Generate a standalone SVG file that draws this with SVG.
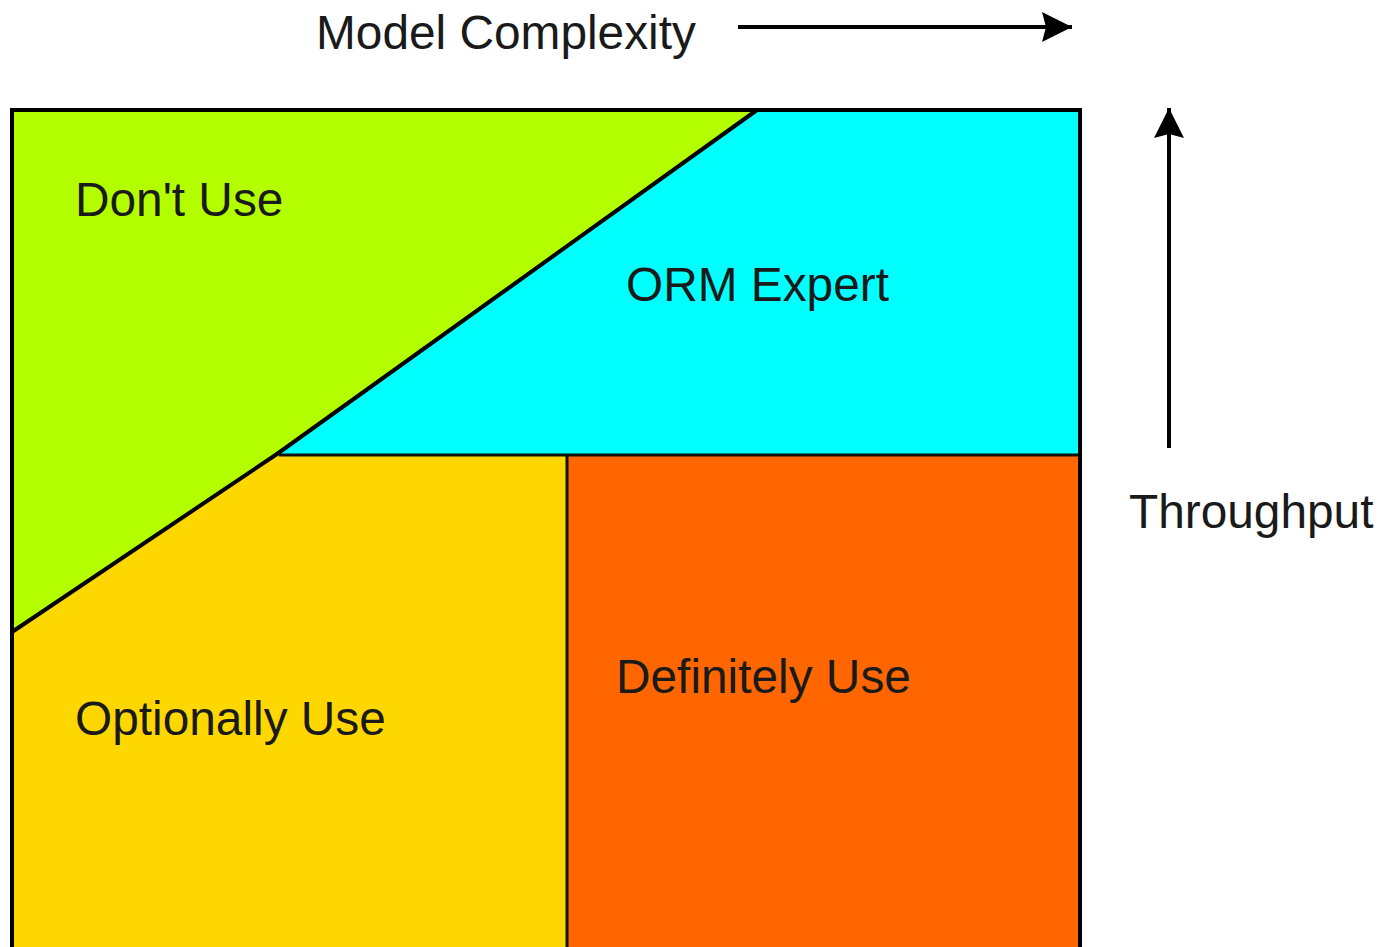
<svg xmlns="http://www.w3.org/2000/svg" width="1388" height="947" viewBox="0 0 1388 947">
<style>
.lbl{font-family:"Liberation Sans",Arial,sans-serif;font-size:47.8px;fill:#1a1a1a}
.edge{stroke:#000;stroke-width:4;fill:none}
.div{stroke:#111;stroke-width:3;fill:none}
</style>
<defs>
<marker id="ah2" viewBox="0 0 30 30" markerWidth="30" markerHeight="30" refX="30" refY="15" orient="auto" markerUnits="userSpaceOnUse">
<path d="M0,0 L30,15 L0,30 L4,15 Z" fill="#000"/>
</marker>
</defs>
<rect width="1388" height="947" fill="#fff"/>
<g id="dont-use">
<polygon points="12,110 757,110 277,454 12,632" fill="#b3ff00"/>
<text class="lbl" x="75" y="216">Don't Use</text>
</g>
<g id="orm-expert">
<polygon points="757,110 1080,110 1080,455 277,455" fill="#00ffff"/>
<text class="lbl" x="626" y="301">ORM Expert</text>
</g>
<g id="optionally-use">
<polygon points="12,632 277,455 567,455 567,950 12,950" fill="#ffd700"/>
<text class="lbl" x="75" y="735">Optionally Use</text>
</g>
<g id="definitely-use">
<rect x="567" y="455" width="513" height="495" fill="#ff6600"/>
<text class="lbl" x="616" y="693">Definitely Use</text>
</g>
<g id="frame">
<path class="edge" d="M12,950 L12,110 L1080,110 L1080,950"/>
<polyline class="edge" points="757,110 277,454 12,632" stroke-width="3.5"/>
<line class="div" x1="279" y1="455" x2="1078" y2="455"/>
<line class="div" x1="567" y1="455" x2="567" y2="950"/>
</g>
<g id="connectors">
<line x1="738" y1="27" x2="1072" y2="27" stroke="#000" stroke-width="4" marker-end="url(#ah2)"/>
<line x1="1169" y1="448" x2="1169" y2="108" stroke="#000" stroke-width="4" marker-end="url(#ah2)"/>
</g>
<g id="axis-labels">
<text class="lbl" x="316" y="49">Model Complexity</text>
<text class="lbl" x="1129" y="528">Throughput</text>
</g>
</svg>
